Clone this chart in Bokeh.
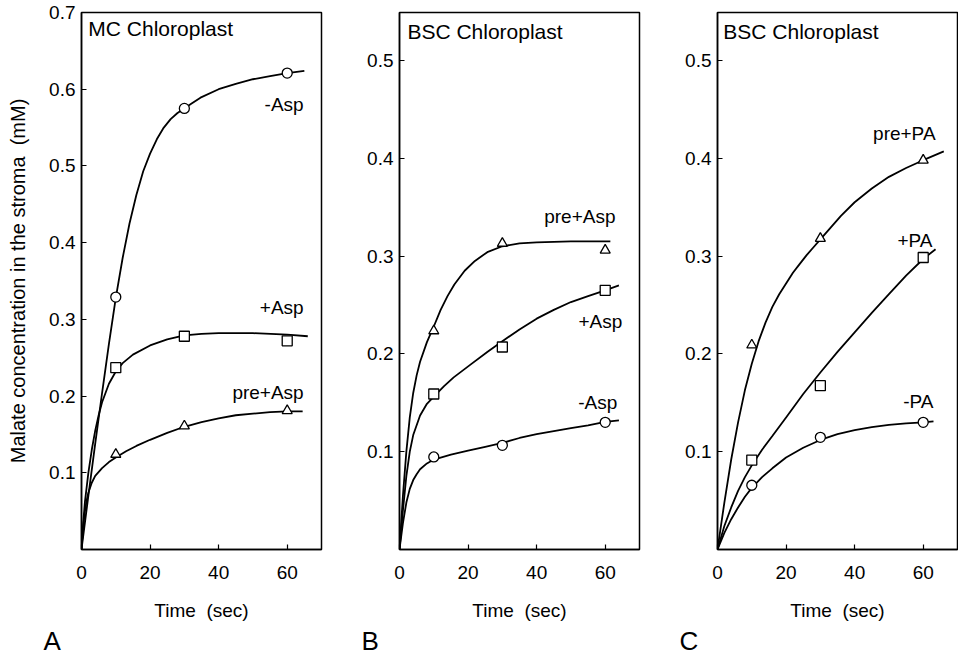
from bokeh.plotting import figure
from bokeh.models import Range1d, FixedTicker, Label, Title
from bokeh.layouts import row
from bokeh.embed import file_html
from bokeh.resources import INLINE

FONT = "Liberation Sans"

# ---------------- data ----------------
time_pts = [10, 30, 60]
x_ticks = [0, 20, 40, 60]
y_ticks_a = [0.1, 0.2, 0.3, 0.4, 0.5, 0.6, 0.7]
y_ticks_bc = [0.1, 0.2, 0.3, 0.4, 0.5]

panel_titles = ["MC Chloroplast", "BSC Chloroplast", "BSC Chloroplast"]
panel_letters = ["A", "B", "C"]
x_title = "Time\u00a0 (sec)"
y_title = "Malate concentration in the stroma\u00a0 (mM)"

# Panel A (MC chloroplast)
a_series = ["-Asp", "+Asp", "pre+Asp"]
a_minus_asp = [0.329, 0.575, 0.621]
a_plus_asp = [0.237, 0.278, 0.272]
a_pre_asp = [0.124, 0.161, 0.181]
a_minus_fit_t = [0, 2, 4, 6, 8, 10, 12, 14, 16, 18, 20, 22, 24, 26, 28, 30, 32, 34.7, 40, 45, 50, 55, 60, 65]
a_minus_fit_y = [0, 0.07, 0.138, 0.204, 0.268, 0.328, 0.38, 0.425, 0.462, 0.493, 0.516, 0.535, 0.550, 0.561,
                 0.569, 0.575, 0.581, 0.589, 0.600, 0.607, 0.613, 0.617, 0.621, 0.624]
a_plus_fit_t = [0, 0.5, 1, 2, 3, 4, 5, 6, 8, 10, 12, 15, 20, 25, 30, 35, 40, 50, 60, 66]
a_plus_fit_y = [0, 0.035, 0.062, 0.1, 0.13, 0.155, 0.175, 0.192, 0.216, 0.232, 0.243, 0.254, 0.266, 0.274,
                0.279, 0.281, 0.282, 0.282, 0.280, 0.278]
a_pre_fit_t = [0, 0.5, 1, 1.5, 2, 3, 4, 6, 8, 10, 13, 16, 20, 25, 30, 35, 40, 45, 50, 55, 60, 64.5]
a_pre_fit_y = [0, 0.03, 0.05, 0.064, 0.074, 0.087, 0.096, 0.106, 0.114, 0.12, 0.128, 0.135, 0.143, 0.152,
               0.16, 0.166, 0.171, 0.175, 0.177, 0.179, 0.18, 0.18]

# Panel B (BSC chloroplast, Asp)
b_series = ["pre+Asp", "+Asp", "-Asp"]
b_pre_asp = [0.2235, 0.313, 0.306]
b_plus_asp = [0.159, 0.207, 0.265]
b_minus_asp = [0.0946, 0.1065, 0.130]
b_pre_fit_t = [0, 1, 2, 3, 4, 5, 6, 8, 10, 12, 14, 16, 19, 22, 25.6, 30, 35, 40, 50, 61.5]
b_pre_fit_y = [0, 0.055, 0.1, 0.135, 0.16, 0.178, 0.192, 0.212, 0.228, 0.245, 0.259, 0.271, 0.285, 0.295,
               0.304, 0.31, 0.313, 0.314, 0.315, 0.315]
b_plus_fit_t = [0, 1, 2, 3, 4, 6, 8, 10.5, 13, 15.8, 20.7, 25.6, 30, 35, 40, 45, 50, 55, 60, 64]
b_plus_fit_y = [0, 0.04, 0.075, 0.1, 0.117, 0.137, 0.149, 0.158, 0.167, 0.176, 0.189, 0.202, 0.213, 0.225,
                0.236, 0.245, 0.253, 0.259, 0.265, 0.27]
b_minus_fit_t = [0, 1, 2, 3, 4, 5, 6, 8, 10, 15, 20, 25, 30, 35, 40, 45, 50, 55, 60, 64]
b_minus_fit_y = [0, 0.027, 0.048, 0.062, 0.071, 0.077, 0.082, 0.088, 0.092, 0.097, 0.101, 0.105, 0.109, 0.114,
                 0.118, 0.121, 0.124, 0.127, 0.1305, 0.132]

# Panel C (BSC chloroplast, PA)
c_series = ["pre+PA", "+PA", "-PA"]
c_pre_pa = [0.209, 0.318, 0.398]
c_plus_pa = [0.0914, 0.1675, 0.2985]
c_minus_pa = [0.0657, 0.1147, 0.130]
c_pre_fit_t = [0, 2, 4, 6, 8, 10, 12, 14, 16, 18, 20, 22, 24, 26, 28, 30, 33, 36, 40, 45, 50, 55, 60, 66]
c_pre_fit_y = [0, 0.048, 0.092, 0.13, 0.163, 0.19, 0.213, 0.232, 0.248, 0.261, 0.272, 0.283, 0.292, 0.301,
               0.309, 0.317, 0.329, 0.341, 0.355, 0.369, 0.381, 0.39, 0.398, 0.407]
c_plus_fit_t = [0, 2, 4, 6, 8, 10, 13, 16, 20, 25, 30, 35, 40, 45, 50, 55, 60, 63.6]
c_plus_fit_y = [0, 0.024, 0.043, 0.06, 0.074, 0.086, 0.102, 0.116, 0.135, 0.159, 0.181, 0.202, 0.222, 0.242,
                0.261, 0.28, 0.297, 0.307]
c_minus_fit_t = [0, 2, 4, 6, 8, 10, 13, 16, 20, 25, 30, 35, 40, 45, 50, 55, 60, 63]
c_minus_fit_y = [0, 0.017, 0.031, 0.043, 0.054, 0.063, 0.074, 0.083, 0.094, 0.104, 0.112, 0.118, 0.122, 0.125,
                 0.1275, 0.129, 0.130, 0.131]

# label anchor positions (data coords, right-aligned)
a_label_pos = [(64.8, 0.58), (64.8, 0.315), (64.8, 0.205)]
b_label_pos = [(63.0, 0.34), (65.0, 0.233), (63.5, 0.150)]
c_label_pos = [(63.6, 0.425), (62.7, 0.316), (63.0, 0.151)]


def make_panel(title, letter, y_max, y_ticks, points, fits, markers, labels, label_pos,
               border_left, right_border=2, ylabel=None, title_pos=(2.0, 0.5)):
    p = figure(output_backend="svg", toolbar_location=None,
               frame_width=240, frame_height=537,
               min_border_left=border_left, min_border_right=right_border,
               min_border_top=12, min_border_bottom=0,
               x_range=Range1d(0, 70), y_range=Range1d(0, y_max),
               background_fill_color="white", border_fill_color="white")
    p.grid.visible = False
    p.outline_line_color = "black"
    p.outline_line_width = 1.5
    p.outline_line_alpha = 1.0
    for ax in (p.xaxis[0], p.yaxis[0]):
        ax.axis_line_width = 1.5
        ax.axis_line_color = "black"
        ax.major_tick_in = 5
        ax.major_tick_out = 0
        ax.major_tick_line_width = 1.2
        ax.minor_tick_line_color = None
        ax.major_label_text_font = FONT
        ax.major_label_text_font_size = "19px"
        ax.major_label_text_color = "black"
        ax.axis_label_text_font = FONT
        ax.axis_label_text_font_style = "normal"
        ax.axis_label_text_color = "black"
    p.xaxis.ticker = FixedTicker(ticks=x_ticks)
    p.yaxis.ticker = FixedTicker(ticks=y_ticks)
    p.xaxis.major_label_standoff = 16
    p.yaxis.major_label_standoff = 6
    p.xaxis.axis_label = x_title
    p.xaxis.axis_label_text_font_size = "19px"
    p.xaxis.axis_label_standoff = 18
    if ylabel:
        p.yaxis.axis_label = ylabel
        p.yaxis.axis_label_text_font_size = "20px"
        p.yaxis.axis_label_standoff = 17

    for (ft, fy) in fits:
        p.line(ft, fy, line_color="black", line_width=1.8)
    for ys, mk in zip(points, markers):
        p.scatter(time_pts, ys, marker=mk, size=10, fill_color="white",
                  line_color="black", line_width=1.3)

    for txt, (lx, ly) in zip(labels, label_pos):
        p.add_layout(Label(x=lx, y=ly, text=txt, text_align="right",
                           text_baseline="middle", text_font=FONT,
                           text_font_size="19px", text_color="black"))
    p.add_layout(Label(x=title_pos[0], y=title_pos[1], text=title, text_align="left",
                       text_baseline="alphabetic", text_font=FONT,
                       text_font_size="21px", text_color="black"))
    p.add_layout(Title(text=letter, align="left", offset=-38, standoff=0,
                       text_font=FONT, text_font_size="26px",
                       text_font_style="normal", text_color="black"), "below")
    return p


pA = make_panel(panel_titles[0], panel_letters[0], 0.7, y_ticks_a,
                [a_minus_asp, a_plus_asp, a_pre_asp],
                [(a_minus_fit_t, a_minus_fit_y), (a_plus_fit_t, a_plus_fit_y), (a_pre_fit_t, a_pre_fit_y)],
                ["circle", "square", "triangle"], a_series, a_label_pos, 81,
                ylabel=y_title, title_pos=(2.0, 0.679))
pB = make_panel(panel_titles[1], panel_letters[1], 0.549, y_ticks_bc,
                [b_pre_asp, b_plus_asp, b_minus_asp],
                [(b_pre_fit_t, b_pre_fit_y), (b_plus_fit_t, b_plus_fit_y), (b_minus_fit_t, b_minus_fit_y)],
                ["triangle", "square", "circle"], b_series, b_label_pos, 76,
                title_pos=(2.3, 0.530))
pC = make_panel(panel_titles[2], panel_letters[2], 0.549, y_ticks_bc,
                [c_pre_pa, c_plus_pa, c_minus_pa],
                [(c_pre_fit_t, c_pre_fit_y), (c_plus_fit_t, c_plus_fit_y), (c_minus_fit_t, c_minus_fit_y)],
                ["triangle", "square", "circle"], c_series, c_label_pos, 76, right_border=1,
                title_pos=(1.7, 0.530))

layout = row(pA, pB, pC, spacing=0)
open("out.html", "w").write(file_html(layout, INLINE))
